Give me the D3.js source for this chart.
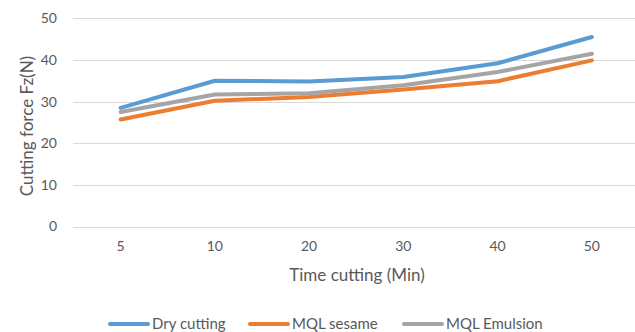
<!DOCTYPE html>
<html>
<head>
<meta charset="utf-8">
<script src="https://cdn.jsdelivr.net/npm/d3@7"></script>
<style>
  html, body { margin: 0; padding: 0; background: #fff; }
  svg { display: block; font-family: Lato, "Open Sans", sans-serif; }
</style>
</head>
<body>
<svg id="chart" width="635" height="332"></svg>
<script>
// Cutting time categories (min)
const categories = ["5", "10", "20", "30", "40", "50"];

// Cutting force Fz (N) for each lubrication condition
const dryCutting   = [28.5, 35.0, 34.8, 35.9, 39.2, 45.5];
const mqlSesame    = [25.7, 30.2, 31.1, 32.9, 34.9, 39.9];
const mqlEmulsion  = [27.5, 31.7, 32.0, 33.9, 37.1, 41.5];

const yTicks = [0, 10, 20, 30, 40, 50];

const seriesNames  = ["Dry cutting", "MQL sesame", "MQL Emulsion"];
const seriesColors = ["#5b9bd5", "#ed7d31", "#a5a5a5"];
const seriesValues = [dryCutting, mqlSesame, mqlEmulsion];

const svg = d3.select("#chart");

const x = d3.scaleBand().domain(categories).range([73.5, 639]);
const y = d3.scaleLinear().domain([0, 50]).range([226.5, 18.3]);

// horizontal gridlines
svg.append("g")
  .selectAll("line")
  .data(yTicks)
  .join("line")
  .attr("x1", 73).attr("x2", 640)
  .attr("y1", d => Math.round(y(d)) + 0.5)
  .attr("y2", d => Math.round(y(d)) + 0.5)
  .attr("stroke", "#d9d9d9")
  .attr("stroke-width", 1);

// y axis labels
const yAxis = d3.axisLeft(y).tickValues(yTicks).tickSize(0).tickPadding(0);
svg.append("g")
  .attr("transform", "translate(57,0)")
  .call(yAxis)
  .call(g => g.select(".domain").remove())
  .call(g => g.selectAll("text")
    .attr("fill", "#595959")
    .style("font-size", "14px")
    .style("font-family", "Lato, 'Open Sans', sans-serif"));

// x axis labels
const xAxis = d3.axisBottom(x).tickSize(0).tickPadding(0);
svg.append("g")
  .attr("transform", "translate(0,241)")
  .call(xAxis)
  .call(g => g.select(".domain").remove())
  .call(g => g.selectAll("text")
    .attr("fill", "#595959")
    .style("font-size", "14px")
    .style("font-family", "Lato, 'Open Sans', sans-serif"));

// axis titles
svg.append("text")
  .attr("x", 357).attr("y", 281)
  .attr("text-anchor", "middle")
  .attr("fill", "#595959")
  .style("font-size", "17px")
  .text("Time cutting (Min)");

svg.append("text")
  .attr("transform", "translate(33,126) rotate(-90)")
  .attr("text-anchor", "middle")
  .attr("fill", "#595959")
  .style("font-size", "17px")
  .text("Cutting force Fz(N)");

// series lines
const line = d3.line()
  .x((d, i) => x(categories[i]) + x.bandwidth() / 2)
  .y(d => y(d));

svg.append("g")
  .selectAll("path")
  .data(seriesValues)
  .join("path")
  .attr("d", line)
  .attr("fill", "none")
  .attr("stroke", (d, i) => seriesColors[i])
  .attr("stroke-width", 4)
  .attr("stroke-linecap", "round")
  .attr("stroke-linejoin", "round");

// legend
const legendX = [110, 250, 404];
const legend = svg.append("g")
  .selectAll("g")
  .data(seriesNames)
  .join("g")
  .attr("transform", (d, i) => `translate(${legendX[i]},324)`);

legend.append("line")
  .attr("x1", 0).attr("x2", 38)
  .attr("stroke", (d, i) => seriesColors[i])
  .attr("stroke-width", 4)
  .attr("stroke-linecap", "round");

legend.append("text")
  .attr("x", 42).attr("dy", "0.35em")
  .attr("fill", "#595959")
  .style("font-size", "15px")
  .text(d => d);
</script>
</body>
</html>
